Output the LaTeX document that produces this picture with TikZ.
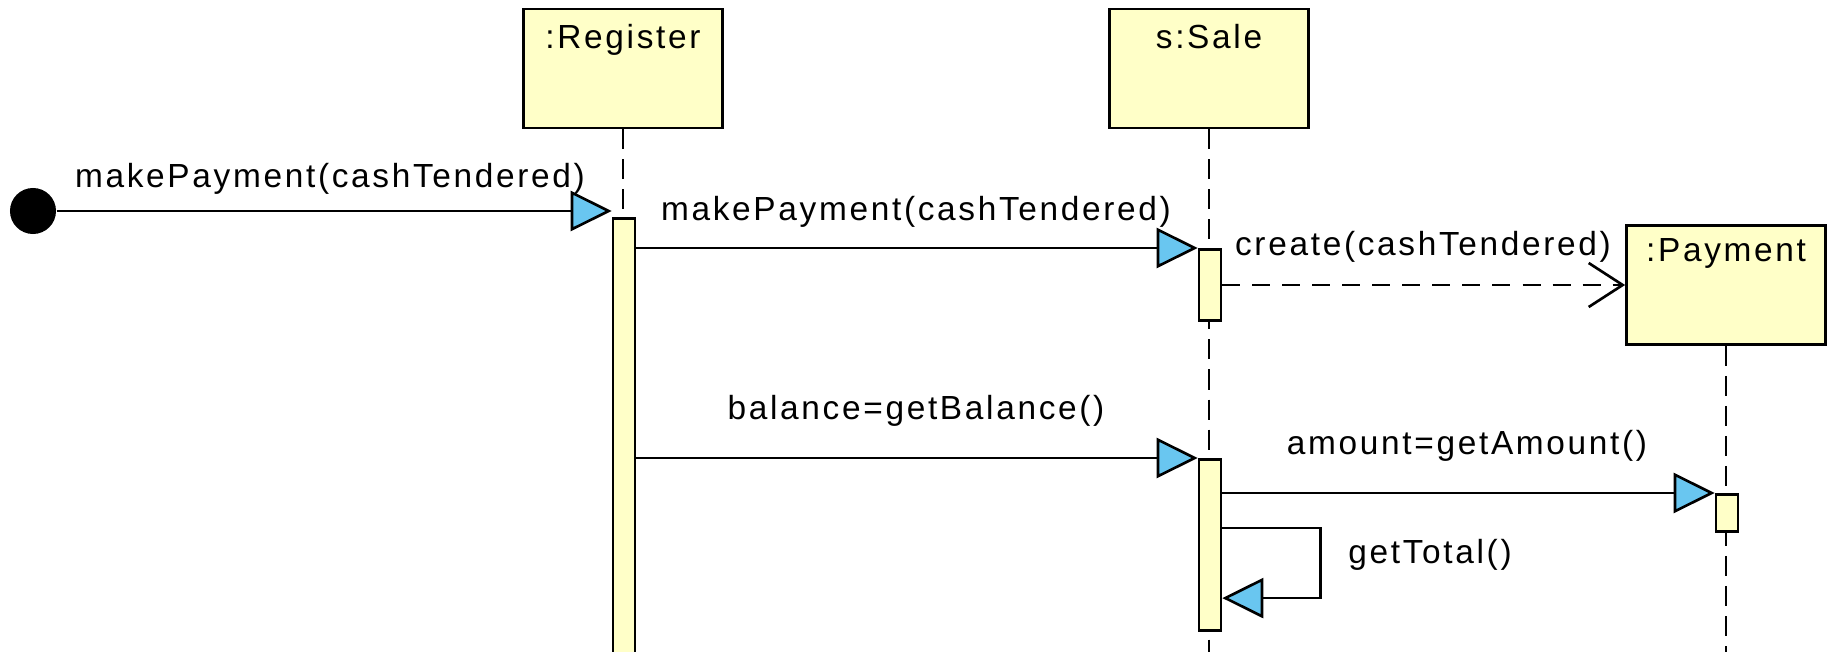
\documentclass[tikz,border=0pt]{standalone}
\usepackage{fontspec}
\setmainfont{Liberation Sans}[LetterSpace=8]
\usetikzlibrary{positioning, arrows.meta, calc}
\definecolor{boxyellow}{RGB}{255,255,200}
\definecolor{msgblue}{RGB}{105,198,240}

\begin{document}
\begin{tikzpicture}[
    x=0.01cm, y=-0.01cm,
    font=\fontsize{9.5}{11}\selectfont,
    object/.style={rectangle, draw=black, fill=boxyellow, line width=0.75pt, minimum width=1.99cm, minimum height=1.19cm, inner sep=0pt},
    actbar/.style={rectangle, draw=black, fill=boxyellow, line width=0.75pt, minimum width=0.22cm, inner sep=0pt, anchor=north},
    lifeline/.style={line width=0.75pt, dash pattern=on 0.2cm off 0.1cm},
    msg/.style={line width=0.75pt, -{Triangle[length=0.41cm, width=0.4cm, fill=msgblue]}},
    create/.style={line width=0.75pt, dash pattern=on 0.18cm off 0.12cm, -{Straight Barb[length=0.34cm, width=0.44cm]}},
    msglabel/.style={inner sep=1pt}
]
    \useasboundingbox (0,0) rectangle (1827,652);

    % Objects
    \node[object, label={[name=regname, anchor=north, inner sep=0pt, yshift=-0.16cm]north:{:Register}}] (reg) at (623, 68.5) {};
    \node[object, label={[name=salename, anchor=north, inner sep=0pt, yshift=-0.16cm]north:{s:Sale}}] (sale) at (1209, 68.5) {};
    \node[object, label={[name=payname, anchor=north, inner sep=0pt, yshift=-0.14cm]north:{:Payment}}] (pay) at (1726, 285) {};
    \coordinate (bottom) at (0, 652);

    % Lifelines
    \foreach \o in {reg, sale, pay} {
        \draw[lifeline] (\o.south) -- (\o.south |- bottom);
    }

    % Activations
    \node[actbar, minimum height=4.6cm] (ra) at (624, 217) {};
    \node[actbar, minimum height=0.71cm] (sa1) at (1210, 248) {};
    \node[actbar, minimum height=1.71cm] (sa2) at (1210, 458) {};
    \node[actbar, minimum height=0.37cm] (pa) at (1727, 493) {};

    % Found message
    \node[circle, fill=black, minimum size=0.46cm, inner sep=0pt] (start) at (33, 211) {};

    % Messages
    \draw[msg] (start) -- (start -| ra.west);
    \draw[msg] (ra.east |- sa1.north) -- (sa1.north west);
    \draw[create] (sa1.east |- pay.west) -- (pay.west);
    \draw[msg] (ra.east |- sa2.north) -- (sa2.north west);
    \draw[msg] (sa2.east |- pa.north) -- (pa.north west);
    \draw[msg] ([yshift=-0.7cm]sa2.north east) -- ++(98,0) |- ([yshift=-1.4cm]sa2.north east);

    % Message labels
    \node[msglabel] (m1) at (330, 179) {makePayment(cashTendered)};
    \node[msglabel] (m2) at (916, 212) {makePayment(cashTendered)};
    \node[msglabel] (m3) at (1423, 247) {create(cashTendered)};
    \node[msglabel] (m4) at (916, 411) {balance=getBalance()};
    \node[msglabel] (m5) at (1467, 446) {amount=getAmount()};
    \node[msglabel] (m6) at (1430, 555) {getTotal()};
\end{tikzpicture}
\end{document}
